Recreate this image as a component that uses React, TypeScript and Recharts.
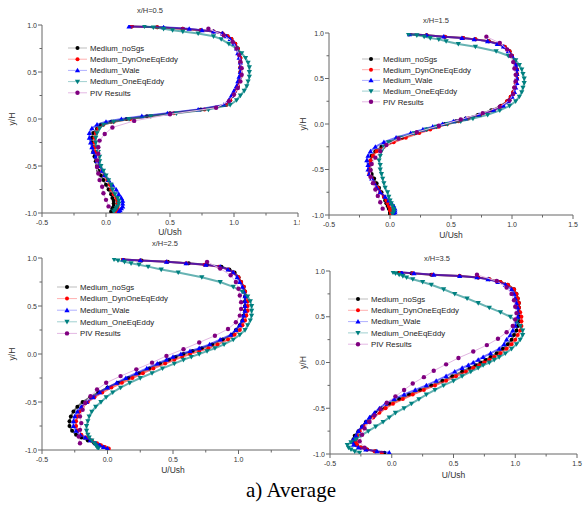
import { ScatterChart, Scatter, XAxis, YAxis } from "recharts";

// y/H positions of the simulation profiles (finer near the walls)
const simY = [
  0.985, 0.975, 0.96, 0.945, 0.93, 0.91, 0.88, 0.85, 0.8, 0.75,
  0.7, 0.65, 0.6, 0.55, 0.5, 0.45, 0.4, 0.35, 0.3, 0.25,
  0.2, 0.15, 0.1, 0.06, 0.03, 0.0, -0.03, -0.06, -0.1, -0.15,
  -0.2, -0.25, -0.3, -0.35, -0.4, -0.45, -0.5, -0.55, -0.6, -0.65,
  -0.7, -0.75, -0.8, -0.84, -0.87, -0.9, -0.93, -0.95, -0.97, -0.985,
];

// y/H positions of the PIV points
const pivY = [
  0.96, 0.89, 0.82, 0.75, 0.68, 0.61, 0.54, 0.47, 0.4, 0.33, 0.26, 0.19, 0.12, 0.05,
  -0.02, -0.09, -0.16, -0.23, -0.3, -0.37, -0.44, -0.51, -0.58, -0.65, -0.72, -0.79, -0.86, -0.93,
];

// x/H = 0.5
const noSgs05 = [
  0.2, 0.4, 0.6, 0.74, 0.84, 0.91, 0.95, 0.98, 1.01, 1.03,
  1.04, 1.05, 1.05, 1.05, 1.05, 1.05, 1.04, 1.03, 1.01, 0.99,
  0.97, 0.93, 0.74, 0.5, 0.32, 0.16, 0.04, -0.04, -0.07, -0.1,
  -0.11, -0.11, -0.1, -0.1, -0.09, -0.08, -0.07, -0.06, -0.04, -0.02,
  0.0, 0.02, 0.04, 0.05, 0.06, 0.06, 0.06, 0.05, 0.05, 0.04,
];
const dyn05 = [
  0.2, 0.4, 0.6, 0.74, 0.84, 0.91, 0.95, 0.98, 1.01, 1.03,
  1.04, 1.05, 1.05, 1.05, 1.05, 1.05, 1.04, 1.03, 1.01, 0.99,
  0.97, 0.94, 0.77, 0.53, 0.35, 0.19, 0.06, -0.02, -0.06, -0.08,
  -0.09, -0.09, -0.09, -0.08, -0.07, -0.06, -0.05, -0.03, -0.01, 0.01,
  0.03, 0.04, 0.06, 0.08, 0.09, 0.09, 0.09, 0.09, 0.08, 0.08,
];
const wale05 = [
  0.18, 0.45, 0.65, 0.75, 0.84, 0.91, 0.94, 0.97, 1.0, 1.02,
  1.03, 1.04, 1.05, 1.05, 1.05, 1.04, 1.03, 1.02, 1.0, 0.98,
  0.96, 0.92, 0.72, 0.48, 0.28, 0.12, 0.0, -0.07, -0.11, -0.13,
  -0.13, -0.12, -0.11, -0.1, -0.08, -0.07, -0.05, -0.03, -0.01, 0.02,
  0.05, 0.08, 0.1, 0.12, 0.13, 0.13, 0.13, 0.12, 0.11, 0.1,
];
const oneEq05 = [
  0.3, 0.37, 0.45, 0.52, 0.6, 0.72, 0.84, 0.9, 0.96, 1.02,
  1.06, 1.09, 1.11, 1.12, 1.12, 1.12, 1.11, 1.1, 1.08, 1.05,
  1.02, 0.97, 0.8, 0.55, 0.35, 0.18, 0.06, -0.02, -0.05, -0.07,
  -0.08, -0.08, -0.07, -0.06, -0.05, -0.05, -0.04, -0.02, 0.0, 0.02,
  0.04, 0.05, 0.07, 0.09, 0.1, 0.1, 0.09, 0.08, 0.07, 0.06,
];
const piv05 = [
  0.8, 0.92, 0.99, 1.02, 1.04, 1.05, 1.06, 1.06, 1.05, 1.03, 1.0, 0.96, 0.86, 0.5,
  0.22, 0.05, -0.01, -0.05, -0.06, -0.06, -0.07, -0.07, -0.06, -0.05, -0.03, -0.02, 0.0, 0.02,
];

// x/H = 1.5
const noSgs15 = [
  0.16, 0.3, 0.45, 0.6, 0.7, 0.81, 0.89, 0.94, 0.98, 1.0,
  1.02, 1.03, 1.04, 1.04, 1.04, 1.03, 1.02, 1.01, 0.99, 0.96,
  0.91, 0.83, 0.72, 0.62, 0.54, 0.45, 0.38, 0.3, 0.21, 0.1,
  0.0, -0.07, -0.12, -0.15, -0.16, -0.17, -0.16, -0.15, -0.13, -0.11,
  -0.09, -0.07, -0.05, -0.04, -0.03, -0.02, -0.01, 0.0, 0.0, 0.0,
];
const dyn15 = [
  0.16, 0.3, 0.45, 0.6, 0.7, 0.81, 0.89, 0.94, 0.98, 1.0,
  1.02, 1.03, 1.04, 1.04, 1.04, 1.03, 1.02, 1.01, 0.99, 0.96,
  0.92, 0.85, 0.74, 0.64, 0.56, 0.47, 0.4, 0.33, 0.24, 0.13,
  0.03, -0.05, -0.11, -0.14, -0.16, -0.17, -0.17, -0.17, -0.15, -0.13,
  -0.1, -0.08, -0.05, -0.03, -0.02, -0.01, 0.0, 0.0, 0.01, 0.01,
];
const wale15 = [
  0.16, 0.3, 0.44, 0.59, 0.69, 0.8, 0.88, 0.93, 0.97, 1.0,
  1.02, 1.03, 1.04, 1.04, 1.04, 1.04, 1.03, 1.02, 1.0, 0.97,
  0.93, 0.85, 0.73, 0.62, 0.52, 0.43, 0.35, 0.27, 0.17, 0.05,
  -0.05, -0.12, -0.16, -0.18, -0.19, -0.18, -0.18, -0.17, -0.15, -0.13,
  -0.11, -0.08, -0.04, -0.01, 0.01, 0.03, 0.04, 0.04, 0.04, 0.03,
];
const oneEq15 = [
  0.15, 0.22, 0.28, 0.33, 0.4, 0.46, 0.56, 0.7, 0.87, 0.97,
  1.03, 1.06, 1.08, 1.09, 1.1, 1.1, 1.09, 1.08, 1.06, 1.03,
  0.98, 0.9, 0.8, 0.68, 0.58, 0.47, 0.38, 0.3, 0.2, 0.08,
  -0.01, -0.05, -0.07, -0.08, -0.09, -0.08, -0.08, -0.07, -0.06, -0.05,
  -0.04, -0.02, -0.01, 0.0, 0.01, 0.02, 0.03, 0.03, 0.03, 0.02,
];
const piv15 = [
  0.79, 0.9, 0.96, 0.99, 1.01, 1.02, 1.03, 1.03, 1.02, 1.01, 0.98, 0.9, 0.76, 0.58,
  0.4, 0.22, 0.07, -0.03, -0.08, -0.12, -0.15, -0.16, -0.16, -0.14, -0.12, -0.1, -0.08, -0.06,
];

// x/H = 2.5
const noSgs25 = [
  0.12, 0.26, 0.46, 0.62, 0.76, 0.87, 0.93, 0.97, 1.0, 1.02,
  1.04, 1.05, 1.05, 1.05, 1.05, 1.05, 1.04, 1.03, 1.01, 0.98,
  0.95, 0.88, 0.8, 0.72, 0.65, 0.58, 0.52, 0.47, 0.4, 0.32,
  0.24, 0.16, 0.08, 0.0, -0.07, -0.13, -0.19, -0.23, -0.26, -0.28,
  -0.29, -0.29, -0.27, -0.24, -0.2, -0.15, -0.1, -0.06, -0.03, 0.0,
];
const dyn25 = [
  0.12, 0.25, 0.45, 0.6, 0.74, 0.85, 0.92, 0.96, 1.0, 1.02,
  1.04, 1.05, 1.06, 1.07, 1.07, 1.07, 1.06, 1.05, 1.03, 1.01,
  0.97, 0.92, 0.84, 0.77, 0.7, 0.63, 0.57, 0.51, 0.44, 0.35,
  0.27, 0.19, 0.11, 0.03, -0.04, -0.1, -0.15, -0.19, -0.21, -0.23,
  -0.24, -0.24, -0.23, -0.2, -0.16, -0.12, -0.08, -0.05, -0.02, 0.01,
];
const wale25 = [
  0.12, 0.25, 0.45, 0.6, 0.75, 0.86, 0.92, 0.96, 0.99, 1.01,
  1.03, 1.04, 1.05, 1.05, 1.05, 1.05, 1.04, 1.03, 1.01, 0.98,
  0.94, 0.86, 0.78, 0.7, 0.63, 0.56, 0.5, 0.45, 0.38, 0.3,
  0.22, 0.14, 0.07, 0.0, -0.06, -0.11, -0.16, -0.2, -0.23, -0.25,
  -0.26, -0.26, -0.24, -0.21, -0.17, -0.13, -0.09, -0.06, -0.03, 0.0,
];
const oneEq25 = [
  0.05, 0.08, 0.13, 0.18, 0.24, 0.31, 0.41, 0.54, 0.72, 0.86,
  0.96, 1.03, 1.07, 1.09, 1.1, 1.1, 1.1, 1.09, 1.07, 1.05,
  1.01, 0.96, 0.89, 0.82, 0.76, 0.7, 0.64, 0.58, 0.51, 0.42,
  0.34, 0.25, 0.17, 0.1, 0.04, -0.01, -0.05, -0.09, -0.12, -0.14,
  -0.15, -0.16, -0.16, -0.15, -0.14, -0.12, -0.1, -0.09, -0.08, -0.07,
];
const piv25 = [
  0.76, 0.86, 0.94, 0.98, 1.0, 1.01, 1.02, 1.02, 1.01, 0.98, 0.92, 0.82, 0.7, 0.58,
  0.45, 0.34, 0.22, 0.1, -0.01, -0.08, -0.13, -0.17, -0.19, -0.21, -0.2, -0.21, -0.22, -0.21,
];

// x/H = 3.5
const noSgs35 = [
  0.06, 0.16, 0.32, 0.55, 0.7, 0.79, 0.88, 0.94, 0.99, 1.01,
  1.02, 1.03, 1.03, 1.03, 1.03, 1.03, 1.02, 1.01, 0.99, 0.97,
  0.94, 0.9, 0.85, 0.8, 0.76, 0.72, 0.68, 0.63, 0.57, 0.49,
  0.41, 0.32, 0.23, 0.14, 0.06, -0.02, -0.08, -0.13, -0.17, -0.21,
  -0.24, -0.27, -0.3, -0.31, -0.31, -0.29, -0.25, -0.2, -0.13, -0.06,
];
const dyn35 = [
  0.07, 0.17, 0.33, 0.55, 0.7, 0.79, 0.88, 0.94, 0.99, 1.01,
  1.02, 1.03, 1.03, 1.04, 1.05, 1.05, 1.05, 1.04, 1.02, 1.0,
  0.97, 0.93, 0.88, 0.83, 0.79, 0.75, 0.71, 0.66, 0.6, 0.52,
  0.44, 0.35, 0.26, 0.17, 0.09, 0.01, -0.05, -0.1, -0.15, -0.19,
  -0.23, -0.26, -0.28, -0.29, -0.29, -0.28, -0.25, -0.2, -0.14, -0.08,
];
const wale35 = [
  0.08, 0.18, 0.34, 0.55, 0.69, 0.78, 0.86, 0.92, 0.97, 0.99,
  1.0, 1.01, 1.02, 1.02, 1.02, 1.01, 1.0, 0.98, 0.96, 0.93,
  0.91, 0.87, 0.8, 0.74, 0.7, 0.66, 0.62, 0.57, 0.51, 0.44,
  0.36, 0.28, 0.19, 0.1, 0.02, -0.05, -0.1, -0.14, -0.18, -0.21,
  -0.24, -0.27, -0.29, -0.31, -0.32, -0.31, -0.27, -0.21, -0.12, -0.02,
];
const oneEq35 = [
  0.01, 0.03, 0.06, 0.09, 0.12, 0.17, 0.25, 0.32, 0.42, 0.51,
  0.61, 0.7, 0.79, 0.88, 0.96, 1.01, 1.04, 1.06, 1.06, 1.04,
  1.01, 0.97, 0.92, 0.87, 0.83, 0.79, 0.74, 0.7, 0.64, 0.57,
  0.5, 0.42, 0.35, 0.28, 0.22, 0.16, 0.1, 0.03, -0.02, -0.07,
  -0.13, -0.19, -0.25, -0.29, -0.33, -0.36, -0.35, -0.33, -0.3, -0.26,
];
const piv35 = [
  0.69, 0.85, 0.93, 0.97, 0.99, 1.0, 1.01, 1.0, 0.98, 0.93, 0.86, 0.77, 0.66, 0.54,
  0.44, 0.34, 0.26, 0.17, 0.1, 0.03, -0.04, -0.09, -0.14, -0.18, -0.22, -0.24, -0.26, -0.22,
];

const xTicks = [-0.5, -0.25, 0, 0.25, 0.5, 0.75, 1, 1.25, 1.5];
const yTicks = [-1, -0.75, -0.5, -0.25, 0, 0.25, 0.5, 0.75, 1];

// curve = line colour on the plot, line = light colour used in the legend
const seriesStyle = [
  { name: "Medium_noSgs", color: "#000000", curve: "rgba(0,0,0,0.55)", line: "#bdbdbd", kind: "circle", r: 2.0, w: 2 },
  { name: "Medium_DynOneEqEddy", color: "#ff0000", curve: "rgba(255,0,0,0.55)", line: "#ffb0b0", kind: "circle", r: 2.0, w: 2 },
  { name: "Medium_Wale", color: "#0000ff", curve: "rgba(0,0,255,0.55)", line: "#b0b0ff", kind: "up", r: 2.1, w: 2 },
  { name: "Medium_OneEqEddy", color: "#008080", curve: "rgba(0,128,128,0.6)", line: "#a0d0d0", kind: "down", r: 2.1, w: 2 },
  { name: "PIV Results", color: "#800080", curve: "#e2b6e2", line: "#e4b8e4", kind: "circle", r: 2.2, w: 1 },
];

const panels = [
  {
    title: "x/H=0.5", titleX: 150, titleY: 10, maxLabel: 1.5,
    left: 0, top: 0, clipW: 300, clipH: 245, chartW: 300, chartH: 245,
    margin: { top: 25, right: 2, bottom: 8, left: 0 }, yW: 42, xLabOff: 2, yLabOff: 12,
    legend: { x1: 68, x2: 87, tx: 90, y0: 48, dy: 11.2 },
    sim: [noSgs05, dyn05, wale05, oneEq05], piv: piv05,
  },
  {
    title: "x/H=1.5", titleX: 436, titleY: 20, maxLabel: 1.5,
    left: 290, top: 0, clipW: 293, clipH: 245, chartW: 293, chartH: 245,
    margin: { top: 33, right: 10, bottom: 6, left: 0 }, yW: 39, xLabOff: 1, yLabOff: 13,
    legend: { x1: 72, x2: 90, tx: 93, y0: 59, dy: 10.7 },
    sim: [noSgs15, dyn15, wale15, oneEq15], piv: piv15,
  },
  {
    title: "x/H=2.5", titleX: 165, titleY: 243, maxLabel: 1.0,
    left: 0, top: 245, clipW: 300, clipH: 235, chartW: 306, chartH: 235,
    margin: { top: 13, right: 2, bottom: 6, left: 0 }, yW: 42, xLabOff: 1, yLabOff: 12,
    legend: { x1: 57, x2: 77, tx: 80, y0: 42, dy: 11.6 },
    sim: [noSgs25, dyn25, wale25, oneEq25], piv: piv25,
  },
  {
    title: "x/H=3.5", titleX: 437, titleY: 258, maxLabel: 1.5,
    left: 290, top: 245, clipW: 293, clipH: 235, chartW: 293, chartH: 235,
    margin: { top: 26, right: 6, bottom: 2, left: 0 }, yW: 40, xLabOff: 0, yLabOff: 13,
    legend: { x1: 58, x2: 78, tx: 81, y0: 54, dy: 11.3 },
    sim: [noSgs35, dyn35, wale35, oneEq35], piv: piv35,
  },
];

const FONT = "'Liberation Sans', Arial, sans-serif";

function marker(kind: string, cx: number, cy: number, color: string, r: number) {
  if (cx == null || cy == null) return <g />;
  if (kind === "up") {
    const h = r * 1.25;
    return <polygon points={`${cx},${cy - h} ${cx - h},${cy + h * 0.75} ${cx + h},${cy + h * 0.75}`} fill={color} />;
  }
  if (kind === "down") {
    const h = r * 1.25;
    return <polygon points={`${cx},${cy + h} ${cx - h},${cy - h * 0.75} ${cx + h},${cy - h * 0.75}`} fill={color} />;
  }
  return <circle cx={cx} cy={cy} r={r} fill={color} />;
}

const isMajor = (v: number) => Math.abs(v * 2 - Math.round(v * 2)) < 1e-6;

const XTick = (props: any) => {
  const { x, y, payload, maxLabel } = props;
  const major = isMajor(payload.value);
  return (
    <g>
      <line x1={x} x2={x} y1={y} y2={y + (major ? 4 : 2.5)} stroke="#666" />
      {major && payload.value <= maxLabel && (
        <text x={x} y={y + 12} textAnchor="middle" fontSize={7} fill="#333" fontFamily={FONT}>
          {payload.value.toFixed(1)}
        </text>
      )}
    </g>
  );
};

const YTick = (props: any) => {
  const { x, y, payload } = props;
  const major = isMajor(payload.value);
  return (
    <g>
      <line x1={x - (major ? 4 : 2.5)} x2={x} y1={y} y2={y} stroke="#666" />
      {major && (
        <text x={x - 5} y={y + 2.5} textAnchor="end" fontSize={7} fill="#333" fontFamily={FONT}>
          {payload.value.toFixed(1)}
        </text>
      )}
    </g>
  );
};

function Panel({ p }: { p: (typeof panels)[number] }) {
  const series = [
    ...p.sim.map((xs, i) => ({ style: seriesStyle[i], data: xs.map((u, k) => ({ u, y: simY[k] })) })),
    { style: seriesStyle[4], data: p.piv.map((u, k) => ({ u, y: pivY[k] })) },
  ];
  const lg = p.legend;
  return (
    <div style={{ position: "absolute", left: p.left, top: p.top, width: p.clipW, height: p.clipH, overflow: "hidden" }}>
      <ScatterChart width={p.chartW} height={p.chartH} margin={p.margin}>
        <XAxis
          type="number"
          dataKey="u"
          domain={[-0.5, 1.5]}
          ticks={xTicks}
          interval={0}
          allowDataOverflow
          height={24}
          tickSize={0}
          tickMargin={0}
          tick={<XTick maxLabel={p.maxLabel} />}
          axisLine={{ stroke: "#666" }}
          label={{ value: "U/Ush", position: "insideBottom", offset: p.xLabOff, fontSize: 8.5, fill: "#333", fontFamily: FONT }}
        />
        <YAxis
          type="number"
          dataKey="y"
          domain={[-1, 1]}
          ticks={yTicks}
          interval={0}
          allowDataOverflow
          width={p.yW}
          tickSize={0}
          tickMargin={0}
          tick={<YTick />}
          axisLine={{ stroke: "#666" }}
          label={{
            value: "y/H", angle: -90, position: "insideLeft", offset: p.yLabOff,
            fontSize: 8.5, fill: "#333", fontFamily: FONT, style: { textAnchor: "middle" },
          }}
        />
        {series.map((s) => (
          <Scatter
            key={s.style.name}
            name={s.style.name}
            data={s.data}
            line={{ stroke: s.style.curve, strokeWidth: s.style.w }}
            lineType="joint"
            shape={(sp: any) => marker(s.style.kind, sp.cx, sp.cy, s.style.color, s.style.r)}
            isAnimationActive={false}
          />
        ))}
      </ScatterChart>
      <svg
        width={p.clipW}
        height={p.clipH}
        style={{ position: "absolute", left: 0, top: 0, pointerEvents: "none" }}
      >
        {seriesStyle.map((s, i) => {
          const y = lg.y0 + i * lg.dy;
          return (
            <g key={s.name}>
              <line x1={lg.x1} x2={lg.x2} y1={y} y2={y} stroke={s.line} strokeWidth={1} />
              {marker(s.kind, (lg.x1 + lg.x2) / 2, y, s.color, s.r)}
              <text x={lg.tx} y={y + 2.8} fontSize={7.8} fill="#222" fontFamily={FONT}>
                {s.name}
              </text>
            </g>
          );
        })}
      </svg>
    </div>
  );
}

export default function App() {
  return (
    <div style={{ position: "absolute", left: 0, top: 0, width: 583, height: 506, background: "#fff", overflow: "hidden" }}>
      {panels.map((p) => (
        <Panel key={p.title} p={p} />
      ))}
      {panels.map((p) => (
        <div
          key={p.title + "-t"}
          style={{
            position: "absolute", left: p.titleX, top: p.titleY, transform: "translate(-50%, -50%)",
            fontFamily: FONT, fontSize: 7.5, color: "#333", whiteSpace: "nowrap",
          }}
        >
          {p.title}
        </div>
      ))}
      <div
        style={{
          position: "absolute", left: 291, top: 490, transform: "translate(-50%, -50%)",
          fontFamily: "'Liberation Serif', 'Times New Roman', serif", fontSize: 21, color: "#000", whiteSpace: "nowrap",
        }}
      >
        a) Average
      </div>
    </div>
  );
}
